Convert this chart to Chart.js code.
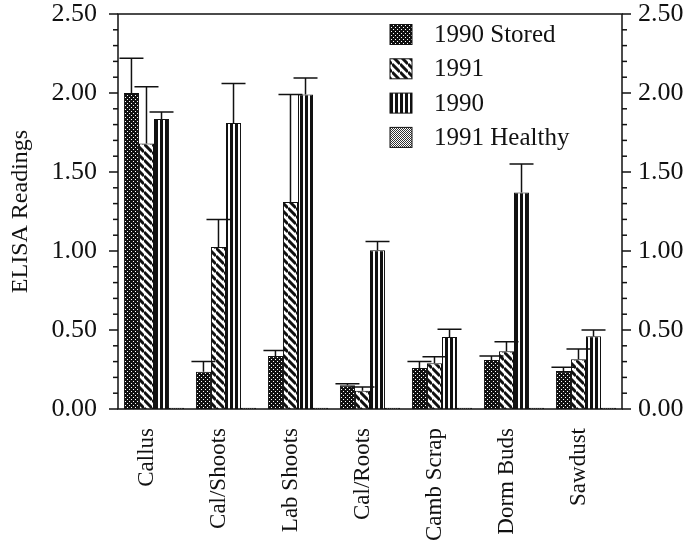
<!DOCTYPE html>
<html>
<head>
<meta charset="utf-8">
<script src="https://cdn.jsdelivr.net/npm/chart.js@4.4.0/dist/chart.umd.min.js"></script>
<style>
  html, body { margin: 0; padding: 0; background: #fff; }
  #wrap { width: 687px; height: 541px; }
</style>
</head>
<body>
<div id="wrap"><canvas id="elisaChart" width="687" height="541"></canvas></div>
<script>
// ==========================================
// DATA
// ==========================================
const categories = ['Callus', 'Cal/Shoots', 'Lab Shoots', 'Cal/Roots', 'Camb Scrap', 'Dorm Buds', 'Sawdust'];
const seriesNames = ['1990 Stored', '1991', '1990', '1991 Healthy'];

const stored1990 = [2.00, 0.235, 0.335, 0.15, 0.26, 0.31, 0.24];
const stored1990Err = [0.22, 0.065, 0.035, 0.01, 0.04, 0.025, 0.025];

const year1991 = [1.68, 1.025, 1.31, 0.115, 0.29, 0.365, 0.315];
const year1991Err = [0.36, 0.175, 0.68, 0.025, 0.04, 0.06, 0.065];

const year1990 = [1.835, 1.81, 1.99, 1.005, 0.455, 1.37, 0.46];
const year1990Err = [0.045, 0.25, 0.105, 0.055, 0.05, 0.18, 0.04];

const healthy1991 = [0.008, 0.008, 0.008, 0.008, 0.008, 0.008, 0.008];

const yMin = 0;
const yMax = 2.5;
const yStep = 0.1;

Chart.defaults.font.family = '"Liberation Serif", "DejaVu Serif", serif';
Chart.defaults.color = '#111';

// ==========================================
// FILL PATTERNS
// ==========================================
const mainCtx = document.getElementById('elisaChart').getContext('2d');

function makePattern(size, paint) {
    const c = document.createElement('canvas');
    c.width = size;
    c.height = size;
    const g = c.getContext('2d');
    g.fillStyle = '#fff';
    g.fillRect(0, 0, size, size);
    paint(g, size);
    return mainCtx.createPattern(c, 'repeat');
}

const darkDots = makePattern(4, (g) => {
    g.fillStyle = '#111';
    g.fillRect(0, 0, 4, 4);
    g.fillStyle = '#fff';
    g.fillRect(1, 1, 1, 1);
    g.fillRect(3, 3, 1, 1);
});

const diagStripes = makePattern(8, (g, s) => {
    g.strokeStyle = '#111';
    g.lineWidth = 3;
    g.beginPath();
    [-s, 0, s].forEach(c => {
        g.moveTo(0, c);
        g.lineTo(s, s + c);
    });
    g.stroke();
});

const vertStripes = makePattern(5, (g) => {
    g.fillStyle = '#111';
    g.fillRect(0, 0, 3, 5);
});

const greyChecks = makePattern(2, (g) => {
    g.fillStyle = '#333';
    g.fillRect(0, 0, 1, 1);
    g.fillRect(1, 1, 1, 1);
});

// ==========================================
// PLUGINS
// ==========================================
function isMajor(v) {
    return Math.abs(v * 2 - Math.round(v * 2)) < 1e-6;
}

const errorBarPlugin = {
    id: 'errorBars',
    afterDatasetsDraw(chart) {
        const ctx = chart.ctx;
        const yScale = chart.scales.y;
        ctx.save();
        ctx.strokeStyle = '#111';
        ctx.lineWidth = 1.5;
        chart.data.datasets.forEach((ds, i) => {
            if (!ds.errors) return;
            const meta = chart.getDatasetMeta(i);
            meta.data.forEach((bar, j) => {
                const top = yScale.getPixelForValue(ds.data[j] + ds.errors[j]);
                ctx.beginPath();
                ctx.moveTo(bar.x, bar.y);
                ctx.lineTo(bar.x, top);
                ctx.moveTo(bar.x - 12, top);
                ctx.lineTo(bar.x + 12, top);
                ctx.stroke();
            });
        });
        ctx.restore();
    }
};

const framePlugin = {
    id: 'frame',
    afterDraw(chart) {
        const { ctx, chartArea: a } = chart;
        ctx.save();
        ctx.strokeStyle = '#111';
        ctx.lineWidth = 1.5;
        ctx.strokeRect(a.left, a.top, a.right - a.left, a.bottom - a.top);
        ['y', 'y2'].forEach(id => {
            const s = chart.scales[id];
            const dir = id === 'y' ? -1 : 1;
            const x0 = id === 'y' ? a.left : a.right;
            s.ticks.forEach(t => {
                const py = s.getPixelForValue(t.value);
                const len = isMajor(t.value) ? 9 : 5;
                ctx.beginPath();
                ctx.moveTo(x0, py);
                ctx.lineTo(x0 + dir * len, py);
                ctx.stroke();
            });
        });
        ctx.restore();
    }
};

const legendPlugin = {
    id: 'boxLegend',
    afterDraw(chart) {
        const { ctx, chartArea: a } = chart;
        const x = a.left + 272;
        const y0 = a.top + 20.5;
        const step = 34.3;
        ctx.save();
        ctx.font = '25px "Liberation Serif"';
        ctx.textBaseline = 'middle';
        chart.data.datasets.forEach((ds, i) => {
            const cy = y0 + i * step;
            ctx.fillStyle = ds.backgroundColor;
            ctx.fillRect(x, cy - 10, 22, 20);
            ctx.strokeStyle = '#111';
            ctx.lineWidth = 1;
            ctx.strokeRect(x, cy - 10, 22, 20);
            ctx.fillStyle = '#111';
            ctx.fillText(ds.label, x + 44, cy + 1);
        });
        ctx.restore();
    }
};

// ==========================================
// CHART
// ==========================================
function yTickLabel(value) {
    return isMajor(value) ? value.toFixed(2) : '';
}

// fixed axis sizes, no extra label padding above/below the plot
function fixAxis(width) {
    return (s) => {
        s.width = width;
        s.paddingTop = 0;
        s.paddingBottom = 0;
    };
}

const barStyle = { borderColor: '#111', borderWidth: 1 };

new Chart(mainCtx, {
    type: 'bar',
    data: {
        labels: categories,
        datasets: [
            { label: seriesNames[0], data: stored1990, errors: stored1990Err, backgroundColor: darkDots, ...barStyle },
            { label: seriesNames[1], data: year1991, errors: year1991Err, backgroundColor: diagStripes, ...barStyle },
            { label: seriesNames[2], data: year1990, errors: year1990Err, backgroundColor: vertStripes, ...barStyle },
            { label: seriesNames[3], data: healthy1991, backgroundColor: greyChecks, ...barStyle }
        ]
    },
    options: {
        responsive: false,
        animation: false,
        categoryPercentage: 0.835,
        barPercentage: 1.0,
        layout: { padding: { top: 14, left: 0, right: 0, bottom: 0 } },
        plugins: {
            legend: { display: false },
            tooltip: { enabled: false }
        },
        scales: {
            x: {
                grid: { display: false, drawTicks: false },
                border: { display: false },
                ticks: {
                    autoSkip: false,
                    minRotation: 90,
                    maxRotation: 90,
                    labelOffset: -7,
                    padding: 19,
                    font: { size: 23 }
                },
                afterFit: (s) => { s.height = 132; }
            },
            y: {
                position: 'left',
                min: yMin,
                max: yMax,
                grid: { display: false, drawTicks: false },
                border: { display: false },
                ticks: {
                    stepSize: yStep,
                    autoSkip: false,
                    padding: 21,
                    callback: yTickLabel,
                    font: { size: 26, lineHeight: 1 }
                },
                title: {
                    display: true,
                    text: 'ELISA Readings',
                    font: { size: 24 },
                    padding: { top: 6, bottom: 0 }
                },
                afterFit: fixAxis(118)
            },
            y2: {
                position: 'right',
                min: yMin,
                max: yMax,
                grid: { display: false, drawTicks: false },
                border: { display: false },
                ticks: {
                    stepSize: yStep,
                    autoSkip: false,
                    padding: 16,
                    callback: yTickLabel,
                    font: { size: 26, lineHeight: 1 }
                },
                afterFit: fixAxis(65)
            }
        }
    },
    plugins: [errorBarPlugin, framePlugin, legendPlugin]
});
</script>
</body>
</html>
